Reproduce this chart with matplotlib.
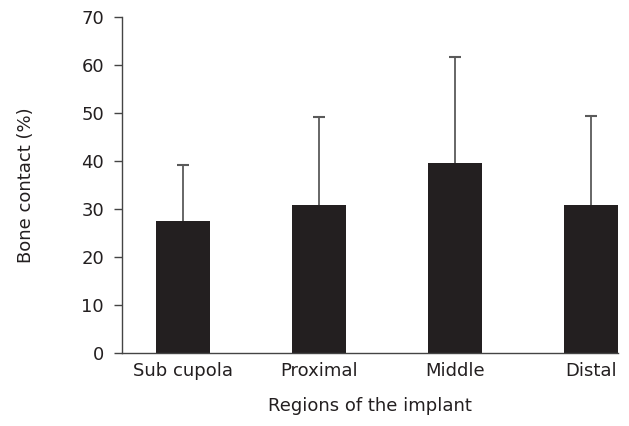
import numpy as np
import matplotlib.pyplot as plt

plt.rcParams['font.family'] = ['DejaVu Sans']

regions = ["Sub cupola", "Proximal", "Middle", "Distal"]
contact = [27.5, 30.8, 39.6, 30.8]
sd = [11.6, 18.5, 22.2, 18.6]

ink = "#231f20"
fs = 13

fig = plt.figure(figsize=(6.29, 4.26), dpi=100)
ax = fig.add_axes([0.194, 0.172, 0.7885, 0.787])

x = np.arange(len(regions))
ax.bar(x, contact, width=0.4, color=ink, zorder=2)
eb = ax.errorbar(x, contact, yerr=[np.zeros(len(sd)), sd], fmt="none",
                 ecolor="#5a5a5a", elinewidth=1.3, capsize=4, capthick=1.5, zorder=1)
# only the upper cap is shown
eb[1][0].set_visible(False)
eb[1][1].set_color(ink)

ax.set_xlim(-0.45, 3.2)
ax.set_ylim(0, 70)
ax.set_yticks(np.arange(0, 71, 10))
ax.set_xticks(x)
ax.set_xticklabels(regions)

ax.spines["top"].set_visible(False)
ax.spines["right"].set_visible(False)
for s in ["left", "bottom"]:
    ax.spines[s].set_color("#444444")
    ax.spines[s].set_linewidth(1.0)
ax.tick_params(axis="y", direction="out", length=6, width=1, color="#444444",
               labelsize=fs, labelcolor=ink, pad=7)
ax.tick_params(axis="x", length=0, labelsize=fs, labelcolor=ink, pad=7)

ax.set_ylabel("Bone contact (%)", fontsize=fs, color=ink, labelpad=33)
ax.set_xlabel("Regions of the implant", fontsize=fs, color=ink, labelpad=12)

fig.savefig("out.png", dpi=100)
